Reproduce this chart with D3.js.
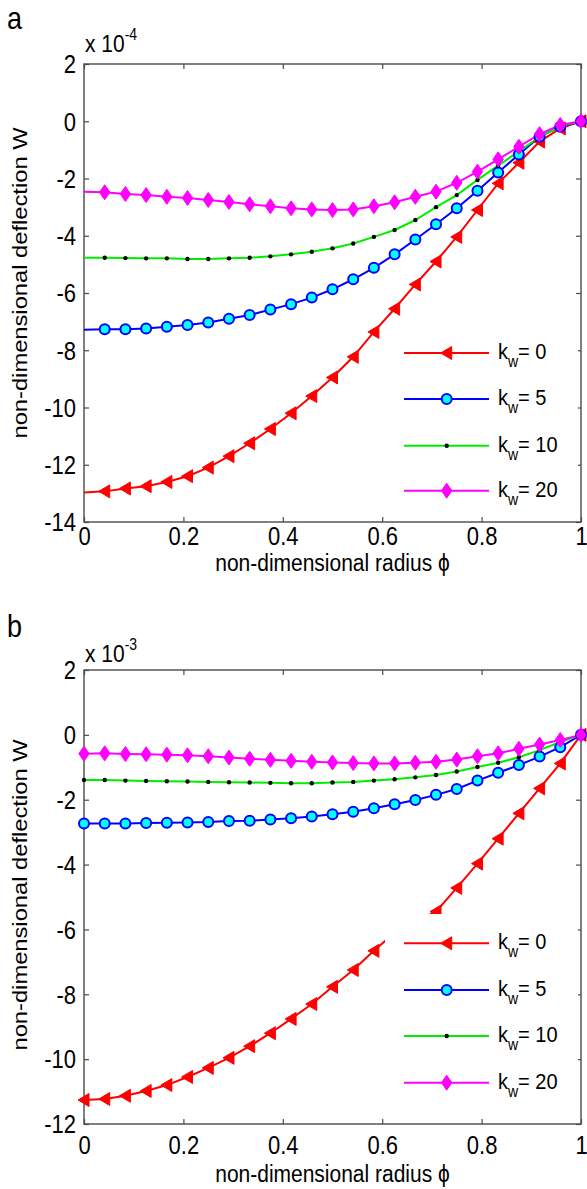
<!DOCTYPE html>
<html>
<head>
<meta charset="utf-8">
<script src="https://cdn.jsdelivr.net/npm/d3@7"></script>
<style>
  html, body { margin: 0; padding: 0; background: #fff; }
  svg { display: block; }
  text { font-family: "Liberation Sans", Arial, Helvetica, sans-serif; fill: #000; }
</style>
</head>
<body>
<svg id="chart" width="587" height="1189"></svg>
<script>
// ---------------- data ----------------
const phi = [0, 0.0417, 0.0833, 0.125, 0.1667, 0.2083, 0.25, 0.2917, 0.3333, 0.375, 0.4167, 0.4583,
             0.5, 0.5417, 0.5833, 0.625, 0.6667, 0.7083, 0.75, 0.7917, 0.8333, 0.875, 0.9167, 0.9583, 1];

const seriesNames = ["0", "5", "10", "20"];

// panel a, values in units of 1e-4
const aK0  = [-12.97,-12.93,-12.83,-12.75,-12.6,-12.4,-12.1,-11.7,-11.25,-10.75,-10.2,-9.6,-8.95,-8.23,-7.36,-6.55,-5.7,-4.9,-4.04,-3.1,-2.17,-1.45,-0.71,-0.25,0];
const aK5  = [-7.28,-7.27,-7.27,-7.24,-7.18,-7.12,-7.03,-6.9,-6.77,-6.58,-6.39,-6.16,-5.87,-5.52,-5.12,-4.65,-4.13,-3.6,-3.04,-2.43,-1.79,-1.16,-0.54,-0.19,0];
const aK10 = [-4.77,-4.77,-4.78,-4.79,-4.79,-4.81,-4.81,-4.79,-4.77,-4.72,-4.65,-4.56,-4.44,-4.27,-4.04,-3.8,-3.45,-3.0,-2.58,-2.05,-1.55,-1.05,-0.55,-0.17,0];
const aK20 = [-2.46,-2.48,-2.54,-2.58,-2.64,-2.68,-2.75,-2.82,-2.9,-2.97,-3.04,-3.08,-3.1,-3.08,-2.97,-2.83,-2.64,-2.46,-2.15,-1.76,-1.33,-0.89,-0.45,-0.13,0];

// panel b, values in units of 1e-3
const bK0  = [-11.26,-11.23,-11.13,-10.98,-10.8,-10.55,-10.27,-9.96,-9.6,-9.2,-8.76,-8.3,-7.77,-7.25,-6.66,-6.1,-5.75,-5.45,-4.72,-3.97,-3.2,-2.42,-1.65,-0.88,0];
const bK5  = [-2.73,-2.73,-2.73,-2.72,-2.71,-2.70,-2.69,-2.66,-2.65,-2.61,-2.57,-2.52,-2.45,-2.37,-2.26,-2.14,-2.01,-1.85,-1.67,-1.41,-1.17,-0.93,-0.67,-0.38,0];
const bK10 = [-1.39,-1.39,-1.41,-1.42,-1.43,-1.44,-1.45,-1.46,-1.47,-1.48,-1.49,-1.49,-1.47,-1.45,-1.41,-1.37,-1.31,-1.24,-1.13,-0.99,-0.86,-0.69,-0.47,-0.22,0];
const bK20 = [-0.58,-0.57,-0.59,-0.6,-0.61,-0.63,-0.66,-0.70,-0.74,-0.77,-0.80,-0.83,-0.85,-0.87,-0.88,-0.88,-0.86,-0.83,-0.76,-0.66,-0.57,-0.43,-0.3,-0.16,0];

const xTicks = [0, 0.2, 0.4, 0.6, 0.8, 1];
const xTickLabels = ["0", "0.2", "0.4", "0.6", "0.8", "1"];
const aYTicks = [2, 0, -2, -4, -6, -8, -10, -12, -14];
const bYTicks = [2, 0, -2, -4, -6, -8, -10, -12];

const xTitle = "non-dimensional radius \u03D5";
const yTitle = "non-dimensional deflection W";

// ---------------- styles ----------------
const S = 1.13; // vertical text stretch
const FRAME = "#4a4a4a";
const styles = [
  { color: "#ff0000", marker: "triLeft" },
  { color: "#0000ff", marker: "circle" },
  { color: "#00ee00", marker: "dot" },
  { color: "#ff00ff", marker: "diamond" }
];

const panels = [
  { letter: "a", letterY: 29, exp: "-4", expY: 52, x0: 84, x1: 581, yTop: 64, yBot: 522,
    domain: [-14, 2], yTicks: aYTicks, series: [aK0, aK5, aK10, aK20],
    tickOff: 23, titleOff: 49, yTitleY: 283, markerFrom: 1,
    legend: { x: 392, y: 330, w: 186, h: 182, rows: [353, 399, 445.7, 490.7] } },
  { letter: "b", letterY: 637, exp: "-3", expY: 662, x0: 84, x1: 581, yTop: 670, yBot: 1124,
    domain: [-12, 2], yTicks: bYTicks, series: [bK0, bK5, bK10, bK20],
    tickOff: 30, titleOff: 58, yTitleY: 895, markerFrom: 0,
    legend: { x: 385, y: 914, w: 193, h: 190, rows: [943.3, 990, 1036, 1082.7] } }
];

const svg = d3.select("#chart");

function drawMarker(g, type, color, x, y) {
  if (type === "triLeft") {
    g.append("path").attr("transform", `translate(${x},${y})`)
      .attr("d", "M-6,0 L5,-6.5 L5,6.5 Z").attr("fill", color).attr("stroke", color).attr("stroke-width", 1);
  } else if (type === "circle") {
    g.append("circle").attr("cx", x).attr("cy", y).attr("r", 5)
      .attr("fill", "#00ffff").attr("stroke", color).attr("stroke-width", 2);
  } else if (type === "dot") {
    g.append("circle").attr("cx", x).attr("cy", y).attr("r", 2.2).attr("fill", "#000");
  } else if (type === "diamond") {
    g.append("path").attr("transform", `translate(${x},${y})`)
      .attr("d", "M0,-7.5 L5.2,0 L0,7.5 L-5.2,0 Z").attr("fill", color).attr("stroke", color).attr("stroke-width", 1);
  }
}

panels.forEach(p => {
  const x = d3.scaleLinear().domain([0, 1]).range([p.x0, p.x1]);
  const y = d3.scaleLinear().domain(p.domain).range([p.yBot, p.yTop]);
  const g = svg.append("g");

  // frame
  g.append("rect").attr("x", p.x0).attr("y", p.yTop)
    .attr("width", p.x1 - p.x0).attr("height", p.yBot - p.yTop)
    .attr("fill", "#fff").attr("stroke", FRAME).attr("stroke-width", 1.4);

  // axes
  const fmt = (d) => xTickLabels[xTicks.indexOf(d)];
  const axB = g.append("g").attr("transform", `translate(0,${p.yBot})`)
    .call(d3.axisBottom(x).tickValues(xTicks).tickFormat(fmt).tickSizeInner(-5).tickSizeOuter(0));
  axB.selectAll("text").attr("y", 0).attr("dy", null)
    .attr("transform", `translate(0,${p.tickOff}) scale(1,${S})`);
  const axT = g.append("g").attr("transform", `translate(0,${p.yTop})`)
    .call(d3.axisTop(x).tickValues(xTicks).tickFormat("").tickSizeInner(-5).tickSizeOuter(0));
  const axL = g.append("g").attr("transform", `translate(${p.x0},0)`)
    .call(d3.axisLeft(y).tickValues(p.yTicks).tickFormat(d3.format("d")).tickSizeInner(-5).tickSizeOuter(0));
  axL.selectAll("text").attr("x", 0).attr("dy", null).attr("text-anchor", "end")
    .attr("transform", `translate(-8,8.8) scale(1,${S})`)
    .text(d => (d < 0 ? "-" + Math.abs(d) : String(d)));
  const axR = g.append("g").attr("transform", `translate(${p.x1},0)`)
    .call(d3.axisRight(y).tickValues(p.yTicks).tickFormat("").tickSizeInner(-5).tickSizeOuter(0));
  [axB, axT, axL, axR].forEach(a => {
    a.select(".domain").remove();
    a.selectAll("line").attr("stroke", FRAME).attr("stroke-width", 1.2);
    a.selectAll("text").attr("font-size", 22).attr("fill", "#000")
      .attr("font-family", '"Liberation Sans", Arial, sans-serif');
  });

  // series
  const line = d3.line().x((d, i) => x(phi[i])).y(d => y(d));
  p.series.forEach((vals, k) => {
    g.append("path").datum(vals).attr("d", line).attr("fill", "none")
      .attr("stroke", styles[k].color).attr("stroke-width", 2);
  });
  p.series.forEach((vals, k) => {
    const mg = g.append("g");
    vals.forEach((v, i) => {
      if (i < p.markerFrom) return;
      drawMarker(mg, styles[k].marker, styles[k].color, x(phi[i]), y(v));
    });
  });

  // legend
  const L = p.legend;
  const lg = g.append("g");
  lg.append("rect").attr("x", L.x).attr("y", L.y).attr("width", L.w).attr("height", L.h).attr("fill", "#fff");
  seriesNames.forEach((name, k) => {
    const ry = L.rows[k];
    lg.append("line").attr("x1", 404).attr("x2", 489).attr("y1", ry).attr("y2", ry)
      .attr("stroke", styles[k].color).attr("stroke-width", 2);
    drawMarker(lg, styles[k].marker, styles[k].color, 446.7, ry);
    const t = lg.append("text").attr("transform", `translate(498,${ry + 6}) scale(1,${S})`)
      .attr("font-size", 20);
    t.append("tspan").text("k");
    t.append("tspan").attr("font-size", 14).attr("dy", 7).text("w");
    t.append("tspan").attr("dy", -7).text("= " + name);
  });

  // titles
  g.append("text").attr("transform", `translate(${(p.x0 + p.x1) / 2},${p.yBot + p.titleOff}) scale(1,${S})`)
    .attr("text-anchor", "middle").attr("font-size", 21).text(xTitle);
  g.append("text").attr("transform", `translate(27,${p.yTitleY}) rotate(-90) scale(${S},1)`)
    .attr("text-anchor", "middle").attr("font-size", 21).text(yTitle);

  // exponent
  const e = g.append("text").attr("transform", `translate(85,${p.expY}) scale(1,${S})`).attr("font-size", 21);
  e.append("tspan").text("x 10");
  e.append("tspan").attr("font-size", 14).attr("dy", -11).text(p.exp);

  // panel letter
  g.append("text").attr("transform", `translate(7,${p.letterY}) scale(1,${S})`)
    .attr("font-size", 27).text(p.letter);
});
</script>
</body>
</html>
